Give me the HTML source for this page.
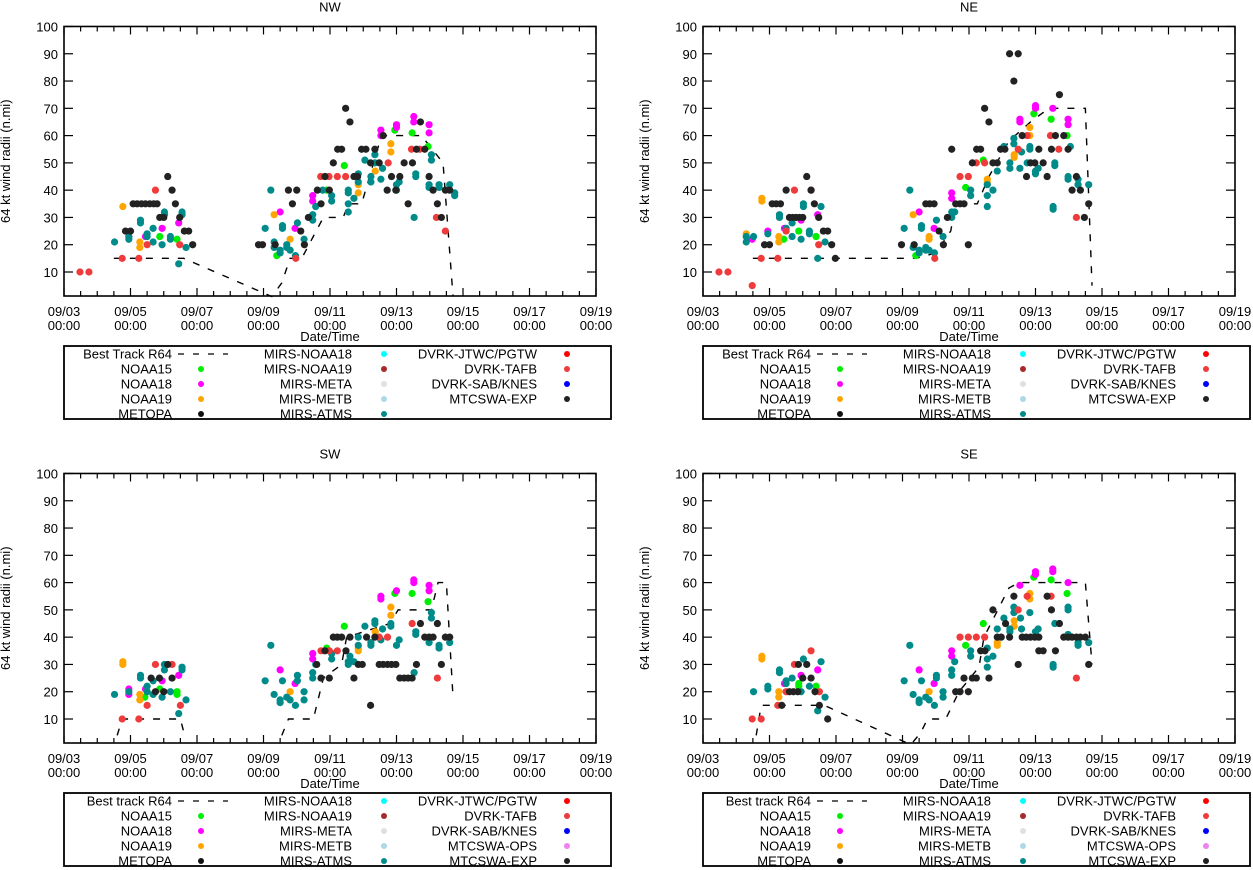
<!DOCTYPE html>
<html><head><meta charset="utf-8">
<style>
html,body{margin:0;padding:0;background:#fff;}
svg{display:block;font-family:"Liberation Sans",sans-serif;}
</style></head>
<body>
<svg id="root" width="1253" height="870" viewBox="0 0 1253 870" xmlns="http://www.w3.org/2000/svg"></svg>
<script>
// ---------- DATA (day offset from 09/03 00:00, radius n.mi) ----------
const xTickLabels=["09/03","09/05","09/07","09/09","09/11","09/13","09/15","09/17","09/19"];
const yTickValues=[10,20,30,40,50,60,70,80,90,100];

const nwBest=[[1.5,15],[3.6,15],[6.25,1],[6.55,6],[6.8,15],[7.15,15],[7.8,30],[8.4,30],[8.55,35],[8.95,35],[9.55,60],[10.75,60],[11.4,50],[11.7,1]];
const nwTafb=[[0.48,10],[0.75,10],[1.75,15],[2.25,15],[2.5,20],[2.75,40],[3.48,20],[6.97,15],[7.72,45],[7.97,45],[8.22,45],[8.47,45],[9.75,50],[10.45,55],[10.7,55],[11.2,30],[11.47,25]];
const nwN19=[[1.77,34],[2.28,21],[2.28,19],[6.32,31],[6.8,22],[9.36,47],[8.85,42],[8.85,39],[9.83,57],[9.83,54]];
const nwN18=[[1.95,23],[2.45,23],[2.95,26],[3.45,28],[6.5,32],[6.95,26],[7.48,38],[7.48,36],[9.53,62],[9.53,60],[10,64],[10,63],[10.52,67],[10.52,65],[10.98,64],[10.98,61]];
const nwN15=[[2.88,23],[3.4,22],[6.4,16],[7.9,40],[8.43,49],[9.95,62],[10.47,61],[10.95,56]];
const nwExp=[[1.85,25],[2,25],[2.08,35],[2.2,35],[2.33,35],[2.45,35],[2.58,35],[2.7,35],[2.8,35],[2.88,30],[3,30],[3.12,45],[3.25,40],[3.35,35],[3.48,30],[3.62,25],[3.75,25],[3.87,20],[5.85,20],[5.97,20],[6.35,20],[6.75,40],[6.87,35],[7,40],[7.12,25],[7.23,20],[7.35,30],[7.62,40],[7.73,35],[7.85,45],[7.98,40],[8.1,50],[8.23,55],[8.35,55],[8.47,70],[8.6,65],[8.72,45],[8.83,45],[8.95,55],[9.08,55],[9.22,50],[9.35,55],[9.48,50],[9.6,60],[9.72,40],[9.85,45],[9.98,40],[10.1,45],[10.23,50],[10.35,35],[10.48,50],[10.6,55],[10.72,65],[10.85,55],[10.98,45],[11.1,40],[11.23,35],[11.35,30],[11.47,40],[11.6,40]];
const nwAtms=[[1.52,21],[1.95,22],[1.95,23],[2.3,29],[2.3,28],[2.5,24],[2.5,23],[2.68,26],[2.68,21],[2.95,20],[3.02,32],[3.02,31],[3.2,23],[3.2,22],[3.45,13],[3.55,32],[3.55,31],[3.67,19],[6.22,40],[6.05,26],[6.32,21],[6.32,19],[6.5,18],[6.5,17],[6.57,27],[6.57,26],[6.7,20],[6.7,19],[6.8,18],[6.96,16],[7.02,28],[7.22,22],[7.48,31],[7.48,29],[7.57,34],[7.78,40],[8.05,38],[8.05,36],[8.55,40],[8.55,39],[8.55,35],[8.55,32],[8.72,37],[8.85,46],[8.85,43],[9.05,51],[9.23,45],[9.23,43],[9.35,53],[9.35,50],[9.53,44],[9.58,48],[10,42],[10,40],[10.08,43],[10.53,30],[10.58,46],[10.58,45],[10.98,42],[10.98,41],[11.05,53],[11.05,51],[11.28,42],[11.28,41],[11.6,42],[11.75,39],[11.75,38]];

const neBest=[[1.5,15],[6.4,15],[7.0,17],[7.45,25],[7.6,35],[8.25,35],[8.6,45],[9.2,58],[9.85,65],[10.4,70],[11.5,70],[11.7,5]];
const neTafb=[[0.48,10],[0.75,10],[1.48,5],[1.75,15],[2.25,15],[2.5,25],[2.75,40],[3.25,40],[3.48,20],[6.97,15],[7.73,45],[7.98,45],[8.22,50],[8.47,50],[9.48,55],[9.75,60],[10.45,60],[10.7,55],[11.23,30]];
const neN19=[[1.3,24],[1.77,37],[1.77,36],[2.28,23],[2.28,21],[6.32,31],[6.8,23],[6.8,22],[8.55,44],[8.55,43],[9.36,53],[9.36,52],[9.83,63],[9.83,60]];
const neN18=[[1.48,22],[1.95,25],[2.45,26],[2.95,29],[3.45,31],[6.5,32],[6.95,26],[7.48,39],[7.48,37],[9.53,66],[9.53,65],[10,71],[10,70],[10.52,70],[10.98,66],[10.98,64]];
const neN15=[[2.43,22],[2.88,25],[3.4,23],[6.4,16],[7.9,41],[8.43,51],[9.95,68],[10.47,66],[10.95,60]];
const neExp=[[1.85,20],[2,20],[2.08,35],[2.2,35],[2.33,35],[2.5,40],[2.6,30],[2.7,30],[2.8,30],[2.9,30],[3,30],[3.12,45],[3.25,40],[3.35,35],[3.48,30],[3.62,25],[3.75,25],[3.87,20],[3.98,15],[5.97,20],[6.35,20],[6.7,35],[6.82,35],[6.95,35],[7.1,25],[7.23,20],[7.35,30],[7.48,55],[7.6,35],[7.73,35],[7.85,35],[7.98,20],[8.1,50],[8.23,55],[8.35,55],[8.47,70],[8.6,65],[8.72,50],[8.85,50],[8.95,55],[9.08,55],[9.22,90],[9.48,90],[9.35,80],[9.6,60],[9.73,45],[9.85,50],[9.98,50],[10.1,55],[10.23,50],[10.35,45],[10.48,55],[10.6,60],[10.72,75],[10.85,60],[10.98,55],[11.1,40],[11.23,45],[11.35,40],[11.47,30],[11.6,35]];
const neAtms=[[1.3,23],[1.3,21],[1.52,23],[1.95,24],[2.3,31],[2.3,30],[2.5,26],[2.68,28],[2.68,23],[2.95,22],[3.02,35],[3.02,34],[3.2,25],[3.2,24],[3.45,15],[3.55,34],[3.67,21],[6.22,40],[6.05,26],[6.32,19],[6.5,18],[6.5,17],[6.57,27],[6.57,26],[6.7,19],[6.7,18],[6.8,18],[6.96,17],[7.02,29],[7.22,23],[7.48,32],[7.48,30],[7.57,32],[8.05,40],[8.05,38],[8.55,42],[8.55,38],[8.55,34],[8.72,40],[8.85,47],[9.05,56],[9.23,50],[9.23,48],[9.35,59],[9.35,57],[9.53,48],[9.58,54],[9.75,50],[9.83,56],[9.83,55],[10,47],[10,46],[10.08,48],[10.53,34],[10.53,33],[10.58,50],[10.58,49],[10.98,45],[10.98,44],[11.05,56],[11.28,44],[11.28,42],[11.6,42]];

// null separates disconnected best-track segments
const swBest=[[1.6,4],[1.75,10],[3.5,10],[3.65,3],null,[6.55,4],[6.75,10],[7.5,10],[7.8,25],[8.35,30],[8.5,40],[9.8,45],[10.05,50],[11.05,50],[11.25,60],[11.5,60],[11.7,18]];
const swTafb=[[1.75,10],[2.25,10],[2.5,15],[2.75,30],[3.25,30],[3.5,15],[7.73,35],[7.98,35],[8.22,35],[9.48,40],[9.73,40],[10.47,45],[11.23,25]];
const swN19=[[1.77,31],[1.77,30],[2.28,19],[2.28,17],[6.8,20],[8.85,36],[8.85,35],[9.36,42],[9.83,51],[9.83,48]];
const swN18=[[1.95,21],[1.95,19],[2.45,21],[2.95,24],[3.45,26],[6.5,28],[6.95,23],[7.48,34],[7.48,32],[9.53,55],[9.53,54],[10,57],[10.52,61],[10.52,60],[10.98,59],[10.98,57]];
const swN15=[[2.43,18],[2.88,21],[3.4,20],[3.4,19],[7.9,36],[8.43,44],[9.95,56],[10.47,56],[10.95,53]];
const swExp=[[2.62,25],[2.75,20],[2.87,25],[3,20],[3.12,30],[3.25,25],[7.6,30],[7.73,25],[7.98,25],[7.85,35],[8.1,40],[8.22,40],[8.35,40],[8.48,35],[8.6,40],[8.72,25],[8.85,30],[8.97,30],[9.1,40],[9.22,15],[9.35,40],[9.48,30],[9.6,30],[9.73,30],[9.85,30],[9.98,30],[10.1,25],[10.23,25],[10.35,25],[10.47,25],[10.6,30],[10.72,45],[10.85,40],[10.98,40],[11.1,40],[11.23,45],[11.35,30],[11.47,40],[11.6,40]];
const swAtms=[[1.52,19],[1.95,20],[2.3,26],[2.3,25],[2.5,22],[2.5,20],[2.68,24],[2.68,19],[2.95,18],[3.02,30],[3.02,28],[3.2,20],[3.45,12],[3.55,29],[3.55,28],[3.67,17],[6.22,37],[6.05,24],[6.32,19],[6.5,17],[6.5,16],[6.57,24],[6.7,18],[6.8,17],[6.96,15],[7.02,26],[7.02,24],[7.22,20],[7.22,17],[7.48,27],[7.48,25],[7.57,30],[8.05,34],[8.05,32],[8.55,31],[8.55,30],[8.6,33],[8.72,31],[8.85,40],[8.85,37],[9.05,44],[9.23,38],[9.23,37],[9.35,46],[9.35,45],[9.53,39],[9.58,43],[9.83,45],[9.83,44],[10,37],[10.08,39],[10.53,27],[10.58,42],[10.58,41],[10.98,38],[11.05,49],[11.05,47],[11.28,37],[11.28,36],[11.6,38]];

const seBest=[[1.6,4],[1.75,15],[3.65,15],[6.25,0.6],[6.55,5],[6.75,10],[7.3,10],[7.7,20],[8.3,29],[8.45,40],[9.2,58],[9.5,60],[11.5,60],[11.7,30]];
const seTafb=[[1.48,10],[1.75,10],[2.25,15],[2.5,20],[2.75,30],[3.25,35],[3.5,20],[7.73,40],[7.98,40],[8.22,40],[8.47,40],[9.48,50],[9.75,55],[10.47,55],[11.23,25]];
const seN19=[[1.77,33],[1.77,32],[2.28,20],[2.28,18],[6.8,20],[8.85,38],[8.85,37],[9.36,46],[9.36,44],[9.83,56],[9.83,54]];
const seN18=[[2.45,23],[2.95,26],[3.45,28],[6.5,28],[6.95,23],[7.48,35],[7.48,33],[9.53,59],[10,64],[10,63],[10.52,65],[10.52,64],[10.98,60]];
const seN15=[[2.88,23],[2.88,22],[3.4,22],[7.9,37],[8.43,45],[9.95,62],[10.47,61],[10.95,56]];
const seExp=[[2.37,15],[2.6,20],[2.72,20],[2.85,20],[2.87,30],[3,25],[3.12,30],[3.25,25],[3.37,20],[3.5,15],[3.75,10],[7.6,20],[7.73,20],[7.85,25],[7.98,20],[8.1,25],[8.22,25],[8.35,35],[8.48,35],[8.6,25],[8.72,50],[8.85,40],[8.97,40],[9.1,45],[9.22,40],[9.35,55],[9.48,30],[9.6,40],[9.72,40],[9.85,40],[9.98,40],[10.1,40],[10.1,35],[10.23,35],[10.35,55],[10.48,50],[10.6,35],[10.72,45],[10.85,40],[10.98,40],[11.1,40],[11.23,40],[11.35,40],[11.5,40],[11.6,30]];
const seAtms=[[1.52,20],[1.95,22],[1.95,21],[2.3,28],[2.3,27],[2.5,24],[2.5,23],[2.68,25],[2.95,20],[3.02,32],[3.2,22],[3.45,13],[3.55,31],[3.67,18],[6.22,37],[6.05,24],[6.32,19],[6.5,17],[6.5,16],[6.57,24],[6.7,18],[6.8,17],[6.96,15],[7.02,26],[7.02,25],[7.22,20],[7.22,18],[7.48,28],[7.48,26],[7.57,31],[8.05,35],[8.05,33],[8.55,36],[8.55,32],[8.55,29],[8.72,33],[8.85,43],[9.05,47],[9.23,43],[9.23,42],[9.35,51],[9.35,49],[9.55,47],[9.58,43],[9.83,49],[10,42],[10.08,43],[10.53,30],[10.53,29],[10.58,45],[10.98,51],[10.98,50],[10.98,41],[11.28,38],[11.28,37],[11.6,38]];

// ---------- DRAWING ----------
const NS="http://www.w3.org/2000/svg";
const root=document.getElementById('root');
const C={n15:"#00ee00",n18:"#ff00ff",n19:"#ffa500",meta:"#111",mn18:"#00ffff",mn19:"#a52a2a",mmeta:"#e0e0e0",mmetb:"#add8e6",atms:"#008b8b",jtwc:"#ff0000",tafb:"#ef3b3b",sab:"#0000ff",ops:"#ee82ee",exp:"#222"};
function mk(tag,attrs,parent){const e=document.createElementNS(NS,tag);for(const k in attrs)e.setAttribute(k,attrs[k]);(parent||root).appendChild(e);return e;}
function txt(s,x,y,anchor,parent,size){const t=mk('text',{x:x,y:y,'text-anchor':anchor||'middle','font-size':size||13,fill:'#000'},parent);t.textContent=s;return t;}

function panel(name,L,yTop,south,series,best){
  const g=mk('g',{});
  
  
  const R=L+532, y10=yTop+245.5, ppu=2.728, B=y10+(10-1.2)*ppu;
  const X=d=>L+d*33.25, Y=v=>y10-(v-10)*ppu;
  const t=txt(name,(L+R)/2,yTop-15,'middle',g);
  
  
  for(let i=0;i<=32;i++){const x=L+i*16.625;const len=(i%4==0)?8:5;
    mk('line',{x1:x,y1:B,x2:x,y2:B-len,stroke:'#000','stroke-width':1.2},g);
    mk('line',{x1:x,y1:Y(100),x2:x,y2:Y(100)+len,stroke:'#000','stroke-width':1.2},g);}
  xTickLabels.forEach((s,i)=>{const x=L+i*66.5;
    const a=txt(s,x,B+20,'middle',g);
    txt('00:00',x,B+34,'middle',g);});
  yTickValues.forEach(v=>{const y=Y(v);
    mk('line',{x1:L,y1:y,x2:L+9,y2:y,stroke:'#000','stroke-width':1.2},g);
    mk('line',{x1:R,y1:y,x2:R-9,y2:y,stroke:'#000','stroke-width':1.2},g);
    const a=txt(String(v),L-6,y+5,'end',g);});
  mk('rect',{x:L,y:Y(100),width:532,height:B-Y(100),fill:'none',stroke:'#000','stroke-width':1.6},g);
  const yt=txt('64 kt wind radii (n.mi)',0,0,'middle',g);
  yt.setAttribute('transform','translate('+(L-54)+','+((Y(100)+B)/2)+') rotate(-90)');
  
  
  const xt=txt('Date/Time',(L+R)/2,B+45,'middle',g);
  
  
  // best track (segments split at null)
  let segs=[[]];
  best.forEach(p=>{if(p===null)segs.push([]);else segs[segs.length-1].push(p);});
  segs.forEach(sg=>{
    const bp=mk('polyline',{points:sg.map(p=>X(p[0])+','+Y(p[1])).join(' '),fill:'none',stroke:'#000','stroke-width':1.4,'stroke-dasharray':'7,9'},g);
    
    
  });
  series.forEach(s=>{s.data.forEach(p=>{
    const c=mk('circle',{cx:X(p[0]),cy:Y(p[1]),r:3.6,fill:s.color},g);
    
    
  });});
  const lt=B+50, lg=mk('g',{},g);
  
  
  mk('rect',{x:L,y:lt,width:547,height:73,fill:'#fff',stroke:'#000','stroke-width':1.8},lg);
  const col1=[[south?'Best track R64':'Best Track R64',null],['NOAA15',C.n15],['NOAA18',C.n18],['NOAA19',C.n19],['METOPA',C.meta]];
  const col2=[['MIRS-NOAA18',C.mn18],['MIRS-NOAA19',C.mn19],['MIRS-META',C.mmeta],['MIRS-METB',C.mmetb],['MIRS-ATMS',C.atms]];
  const col3=south?[['DVRK-JTWC/PGTW',C.jtwc],['DVRK-TAFB',C.tafb],['DVRK-SAB/KNES',C.sab],['MTCSWA-OPS',C.ops],['MTCSWA-EXP',C.exp]]
                  :[['DVRK-JTWC/PGTW',C.jtwc],['DVRK-TAFB',C.tafb],['DVRK-SAB/KNES',C.sab],['MTCSWA-EXP',C.exp]];
  [[col1,108,137],[col2,288,320],[col3,473,503]].forEach(([col,tx,mx])=>{
    col.forEach((e,i)=>{const y=lt+8+i*15;
      const le=txt(e[0],L+tx,y+4.5,'end',lg);
      
      
      if(e[1]) mk('circle',{cx:L+mx,cy:y,r:3,fill:e[1]},lg);
      else mk('line',{x1:L+114,y1:y,x2:L+164,y2:y,stroke:'#000','stroke-width':1.3,'stroke-dasharray':'6,9'},lg);
    });});
}
function S(n15,n18,n19,atms,tafb,exp){return [{key:'noaa15',color:C.n15,data:n15},{key:'noaa18',color:C.n18,data:n18},{key:'noaa19',color:C.n19,data:n19},{key:'mirs-atms',color:C.atms,data:atms},{key:'dvrk-tafb',color:C.tafb,data:tafb},{key:'mtcswa-exp',color:C.exp,data:exp}];}
panel('NW',64,26.5,false,S(nwN15,nwN18,nwN19,nwAtms,nwTafb,nwExp),nwBest);
panel('NE',703,26.5,false,S(neN15,neN18,neN19,neAtms,neTafb,neExp),neBest);
panel('SW',64,473.5,true,S(swN15,swN18,swN19,swAtms,swTafb,swExp),swBest);
panel('SE',703,473.5,true,S(seN15,seN18,seN19,seAtms,seTafb,seExp),seBest);
</script>
</body></html>
